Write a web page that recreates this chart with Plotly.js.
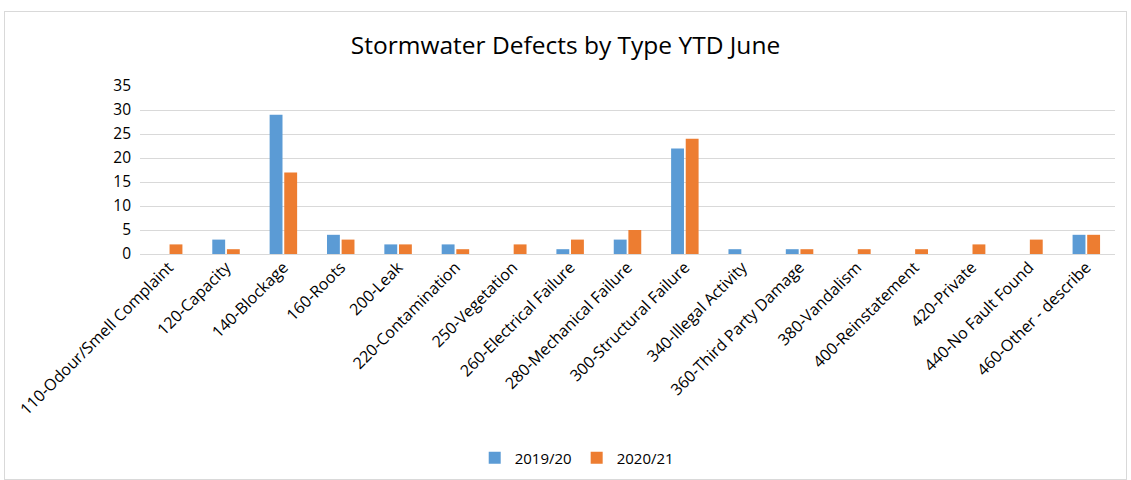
<!DOCTYPE html>
<html>
<head>
<meta charset="utf-8">
<script src="https://cdn.plot.ly/plotly-3.0.1.min.js"></script>
<style>
  html, body { margin: 0; padding: 0; background: #fff; }
  #frame { position: absolute; left: 4px; top: 11px; width: 1121px; height: 467px; border: 1px solid #d9d9d9; }
  #chart { width: 1121px; height: 467px; }
</style>
</head>
<body>
<div id="frame"><div id="chart"></div></div>
<script>
const categories = [
  "110-Odour/Smell Complaint", "120-Capacity", "140-Blockage", "160-Roots", "200-Leak",
  "220-Contamination", "250-Vegetation", "260-Electrical Failure", "280-Mechanical Failure",
  "300-Structural Failure", "340-Illegal Activity", "360-Third Party Damage", "380-Vandalism",
  "400-Reinstatement", "420-Private", "440-No Fault Found", "460-Other - describe"
];
const series2019 = [0, 3, 29, 4, 2, 2, 0, 1, 3, 22, 1, 1, 0, 0, 0, 0, 4];
const series2020 = [2, 1, 17, 3, 2, 1, 2, 3, 5, 24, 0, 1, 1, 1, 2, 3, 4];
const yTicks = [0, 5, 10, 15, 20, 25, 30, 35];

const fontFam = "'Open Sans', 'Noto Sans', sans-serif";

const traces = [
  { type: "bar", name: "2019/20", x: categories, y: series2019,
    marker: { color: "#5b9bd5" }, hoverinfo: "x+y+name" },
  { type: "bar", name: "2020/21", x: categories, y: series2020,
    marker: { color: "#ed7d31" }, hoverinfo: "x+y+name" }
];

const layout = {
  width: 1121, height: 467,
  margin: { l: 135, r: 11, t: 74, b: 225 },
  paper_bgcolor: "#ffffff", plot_bgcolor: "#ffffff",
  font: { family: fontFam, size: 15, color: "#000000" },
  title: { text: "Stormwater Defects by Type YTD June", x: 0.5, xanchor: "center", y: 0.929, yanchor: "middle",
           font: { family: fontFam, size: 24.5, color: "#000000" } },
  barmode: "group", bargap: 0.49, bargroupgap: 0.12,
  xaxis: { type: "category", tickangle: -45, showgrid: false, zeroline: false, showline: false,
           ticks: "", tickfont: { family: fontFam, size: 16, color: "#000000" } },
  yaxis: { range: [0, 35], tickvals: yTicks, showgrid: true, gridcolor: "#d9d9d9", gridwidth: 1,
           zeroline: true, zerolinecolor: "#d9d9d9", zerolinewidth: 1, showline: false, ticks: "",
           ticklen: 0, ticklabelstandoff: 8, tickfont: { family: fontFam, size: 15.5, color: "#000000" } },
  showlegend: true,
  legend: { orientation: "h", xref: "container", yref: "container", x: 0.51, xanchor: "center",
            y: 0.045, yanchor: "middle",
            font: { family: fontFam, size: 15, color: "#000000" }, itemwidth: 30, traceorder: "normal" }
};

Plotly.newPlot("chart", traces, layout, { displayModeBar: false, staticPlot: true });
</script>
</body>
</html>
